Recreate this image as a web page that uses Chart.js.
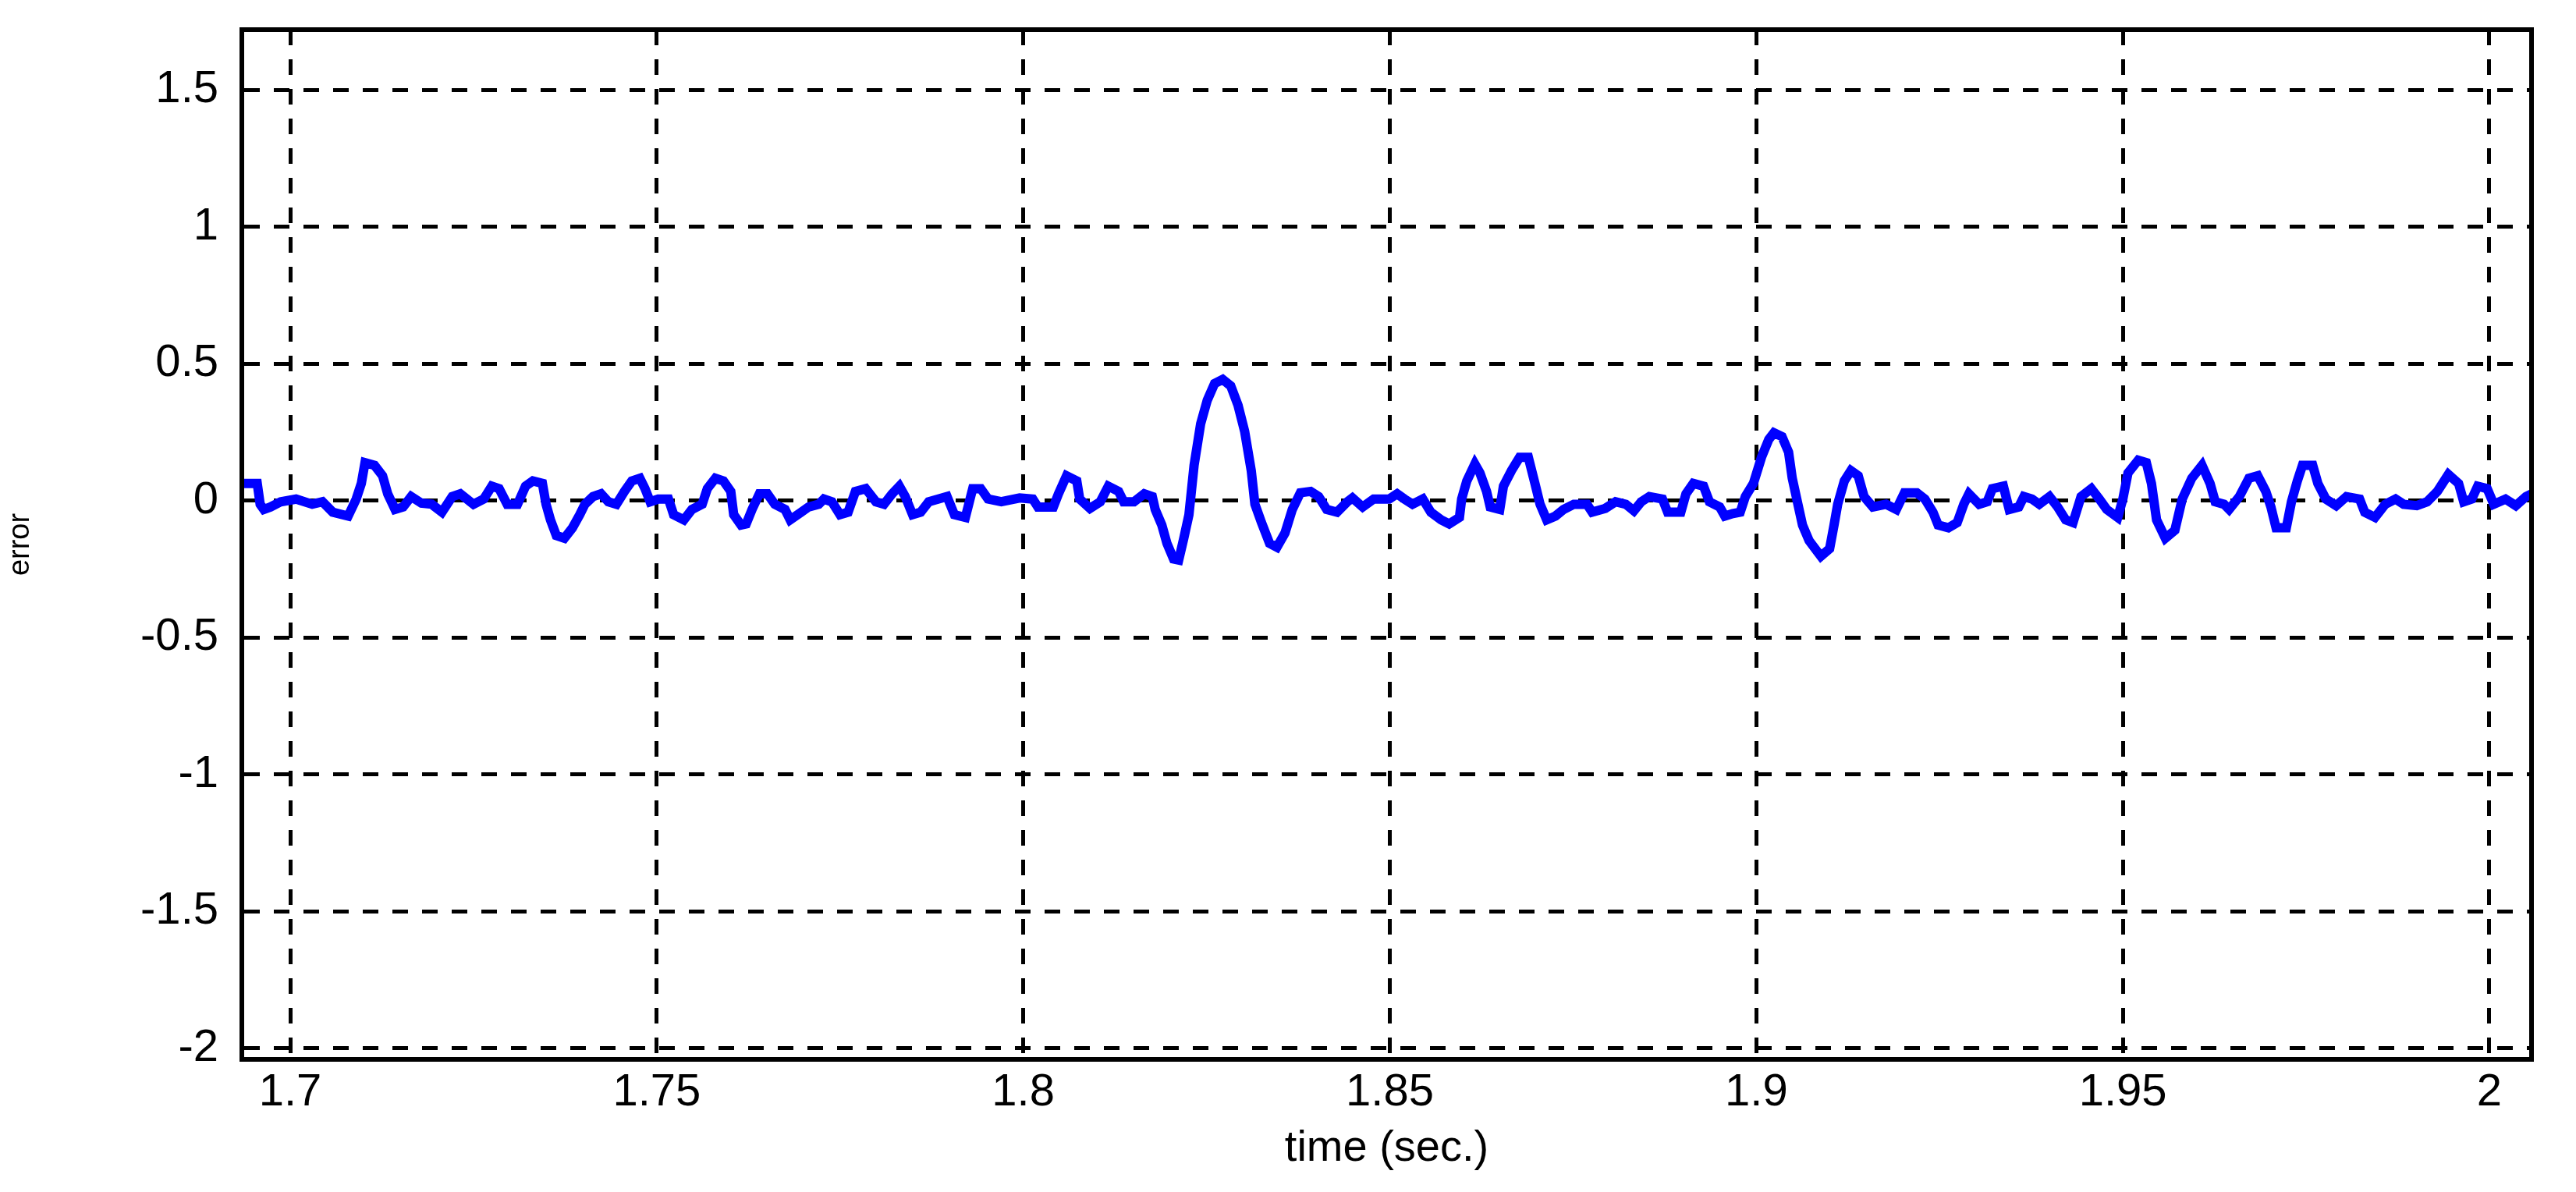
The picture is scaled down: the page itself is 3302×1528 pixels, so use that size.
<!DOCTYPE html>
<html><head><meta charset="utf-8">
<script src="https://cdn.jsdelivr.net/npm/chart.js@4"></script>
<style>html,body{margin:0;padding:0;background:#fff}#wrap{width:3302px;height:1528px}</style>
</head><body><div id="wrap"><canvas id="c" width="3302" height="1528"></canvas></div>
<script>
const times = [1.6934,1.6955,1.6959,1.6964,1.6973,1.6987,1.7008,1.7030,1.7044,1.7058,1.7079,1.7090,1.7097,1.7102,1.7115,1.7126,1.7133,1.7143,1.7154,1.7165,1.7179,1.7193,1.7207,1.7221,1.7232,1.7250,1.7264,1.7275,1.7285,1.7296,1.7310,1.7321,1.7331,1.7344,1.7349,1.7355,1.7363,1.7374,1.7385,1.7395,1.7402,1.7413,1.7424,1.7434,1.7445,
1.7456,1.7466,1.7477,1.7484,1.7491,1.7502,1.7516,1.7523,1.7537,1.7548,1.7562,1.7569,1.7580,1.7591,1.7601,1.7605,1.7615,1.7622,1.7630,1.7640,1.7651,1.7661,1.7675,1.7682,1.7697,1.7707,1.7721,1.7728,1.7739,1.7750,1.7761,1.7771,1.7785,1.7799,1.7810,1.7821,1.7831,1.7839,1.7849,1.7860,1.7871,1.7896,1.7906,1.7921,1.7931,1.7942,1.7952,1.7970,
1.7995,1.8013,1.8020,1.8041,1.8048,1.8059,1.8073,1.8077,1.8091,1.8105,1.8116,1.8130,1.8137,1.8151,1.8165,1.8176,1.8180,1.8189,1.8196,1.8205,1.8212,1.8219,1.8226,1.8233,1.8242,1.8251,1.8261,1.8272,1.8283,1.8293,1.8302,1.8311,1.8316,1.8325,1.8336,1.8346,1.8357,1.8367,1.8378,1.8392,1.8403,1.8414,1.8428,1.8442,1.8449,1.8463,1.8478,
1.8499,1.8510,1.8520,1.8531,1.8545,1.8556,1.8570,1.8581,1.8595,1.8598,1.8605,1.8616,1.8623,1.8632,1.8637,1.8650,1.8655,1.8666,1.8677,1.8689,1.8698,1.8705,1.8714,1.8726,1.8737,1.8751,1.8769,1.8776,1.8794,1.8808,1.8822,1.8833,1.8843,1.8854,1.8872,1.8879,1.8897,1.8904,1.8914,1.8928,1.8936,1.8950,1.8957,1.8968,1.8978,1.8985,1.8996,1.9007,
1.9017,1.9024,1.9035,1.9044,1.9049,1.9056,1.9063,1.9072,1.9088,1.9100,1.9106,1.9111,1.9120,1.9129,1.9139,1.9147,1.9159,1.9177,1.9191,1.9202,1.9219,1.9230,1.9241,1.9248,1.9262,1.9274,1.9283,1.9290,1.9304,1.9315,1.9322,1.9337,1.9345,1.9358,1.9365,1.9376,1.9386,1.9400,1.9411,1.9422,1.9432,1.9443,1.9457,1.9468,1.9478,1.9493,1.9500,1.9507,1.9521,1.9532,
1.9539,1.9546,1.9558,1.9571,1.9581,1.9594,1.9608,1.9619,1.9626,1.9638,1.9645,1.9659,1.9672,1.9684,1.9695,1.9702,1.9709,1.9723,1.9730,1.9738,1.9745,1.9759,1.9766,1.9777,1.9791,1.9805,1.9823,1.9830,1.9844,1.9858,1.9872,1.9883,1.9901,1.9915,1.9929,1.9944,1.9958,1.9965,1.9976,1.9984,1.9997,2.0006,2.0022,2.0036,2.0050,2.0058];
const errors = [0.063,0.063,-0.013,-0.032,-0.023,-0.004,0.006,-0.013,-0.004,-0.042,-0.056,0.006,0.063,0.139,0.129,0.091,0.025,-0.032,-0.023,0.015,-0.009,-0.013,-0.042,0.015,0.025,-0.013,0.006,0.053,0.044,-0.013,-0.013,0.053,0.072,0.063,-0.013,-0.070,-0.127,-0.137,-0.099,-0.051,-0.013,0.015,0.025,-0.004,-0.013,
0.034,0.072,0.082,0.044,-0.004,0.006,0.006,-0.051,-0.070,-0.032,-0.013,0.044,0.082,0.072,0.034,-0.051,-0.089,-0.085,-0.032,0.025,0.025,-0.013,-0.032,-0.070,-0.042,-0.023,-0.013,0.006,-0.004,-0.051,-0.042,0.034,0.044,-0.004,-0.013,0.025,0.053,0.015,-0.051,-0.042,-0.004,0.015,-0.051,-0.061,0.044,0.044,0.006,-0.004,
0.010,0.006,-0.023,-0.023,0.025,0.091,0.072,0.006,-0.028,-0.004,0.053,0.034,-0.004,-0.004,0.025,0.015,-0.032,-0.089,-0.156,-0.213,-0.217,-0.137,-0.051,0.129,0.281,0.367,0.428,0.443,0.419,0.348,0.253,0.110,-0.013,-0.080,-0.156,-0.170,-0.118,-0.032,0.029,0.034,0.015,-0.032,-0.042,-0.004,0.010,-0.023,0.006,
0.006,0.025,0.006,-0.013,0.006,-0.042,-0.070,-0.085,-0.061,0.006,0.072,0.134,0.101,0.034,-0.023,-0.032,0.053,0.110,0.158,0.158,0.063,-0.013,-0.070,-0.056,-0.032,-0.013,-0.013,-0.042,-0.028,-0.004,-0.013,-0.037,-0.004,0.015,0.006,-0.042,-0.042,0.025,0.063,0.053,-0.004,-0.023,-0.056,-0.047,-0.042,0.015,0.063,0.158,
0.224,0.248,0.234,0.177,0.082,-0.004,-0.089,-0.146,-0.203,-0.175,-0.089,-0.013,0.072,0.110,0.091,0.015,-0.023,-0.013,-0.032,0.029,0.029,0.006,-0.042,-0.089,-0.099,-0.080,-0.013,0.025,-0.013,-0.004,0.044,0.053,-0.032,-0.023,0.015,0.006,-0.013,0.015,-0.023,-0.070,-0.080,0.015,0.044,0.006,-0.032,-0.061,0.006,0.101,0.148,0.139,
0.063,-0.070,-0.137,-0.108,0.006,0.082,0.129,0.063,-0.004,-0.013,-0.032,0.015,0.082,0.091,0.034,-0.023,-0.099,-0.099,-0.004,0.072,0.129,0.129,0.063,0.006,-0.018,0.015,0.006,-0.042,-0.061,-0.013,0.006,-0.013,-0.018,-0.004,0.034,0.096,0.063,-0.004,0.006,0.053,0.044,-0.013,0.006,-0.018,0.015,0.025];
const xTicks = [1.7,1.75,1.8,1.85,1.9,1.95,2];
const yTicks = [-2,-1.5,-1,-0.5,0,0.5,1,1.5];
const xLabels = ['1.7','1.75','1.8','1.85','1.9','1.95','2'];

const pts = times.map((t,i)=>({x:t,y:errors[i]}));
const frame = {id:'frame',afterDraw(c){const a=c.chartArea,g=c.ctx;g.save();g.strokeStyle='#000';g.lineWidth=6;g.strokeRect(a.left,a.top,a.right-a.left,a.bottom-a.top);g.restore();}};
const gridCfg = {color:'#000',lineWidth:5,drawTicks:false};
new Chart(document.getElementById('c'),{
  type:'line',
  data:{datasets:[{data:pts,borderColor:'#0000ff',borderWidth:12,pointRadius:0,tension:0,fill:false}]},
  options:{
    responsive:false,animation:false,
    layout:{padding:{top:38,right:57,left:0,bottom:0}},
    plugins:{legend:{display:false},tooltip:{enabled:false}},
    scales:{
      x:{type:'linear',min:1.6934,max:2.00575,
        afterBuildTicks(s){s.ticks=xTicks.map(v=>({value:v}));},
        afterFit(s){s.height=170;s.paddingLeft=0;s.paddingRight=0;},
        grid:gridCfg,border:{display:true,color:'#000',width:6,dash:[20,18]},
        ticks:{padding:8,color:'#000',font:{family:'Liberation Sans',size:58},callback:(v)=>xLabels[xTicks.indexOf(v)] ?? ''},
        title:{display:true,text:'time (sec.)',color:'#000',font:{family:'Liberation Sans',size:56},padding:{top:0,bottom:22}}},
      y:{type:'linear',min:-2.04,max:1.72,
        afterBuildTicks(s){s.ticks=yTicks.map(v=>({value:v}));},
        afterFit(s){s.width=310;s.paddingTop=0;s.paddingBottom=0;},
        grid:gridCfg,border:{display:true,color:'#000',width:6,dash:[20,18]},
        ticks:{padding:30,color:'#000',font:{family:'Liberation Sans',size:58},callback:(v)=>String(v)},
        title:{display:true,text:'error',color:'#000',font:{family:'Liberation Sans',size:38},padding:{top:4,bottom:0}}}
    }
  },
  plugins:[frame]
});
</script></body></html>
